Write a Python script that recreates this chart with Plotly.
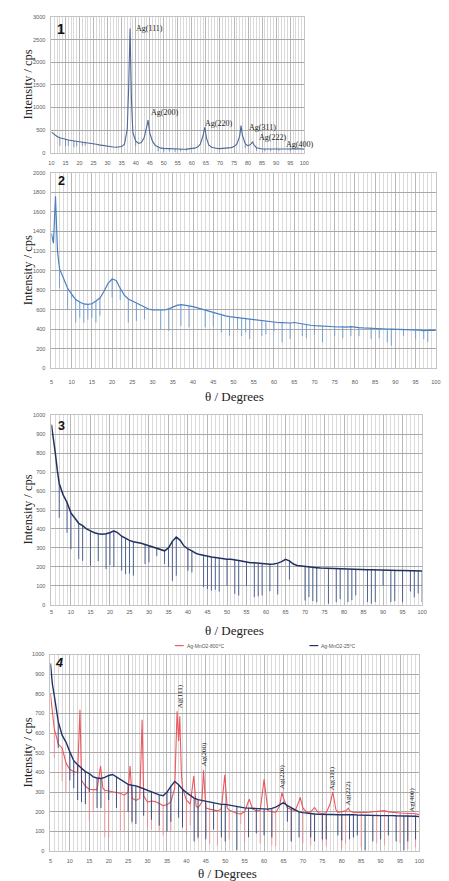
import plotly.graph_objects as go

W, H = 449, 881

# ---------------- data: (2theta, intensity) pairs and dip lists ----------------
# Panel 1: reference silver pattern
p1_points = [(10,455),(11,400),(12,360),(13,330),(14,310),(15,295),(16,280),(17,270),(18,262),(19,255),
             (20,246),(21,240),(22,234),(23,225),(24,214),(25,200),(26,186),(27,172),(28,160),(29,150),
             (30,140),(31,130),(32,124),(33,120),(34,124),(35,135),(36,190),(37,520),(37.5,1450),(38,2750),
             (38.5,1150),(39,440),(40,260),(41,205),(42,225),(43,330),(44,600),(44.4,720),(45,440),(46,250),
             (47,160),(48,120),(49,100),(50,95),(51,90),(52,86),(53,82),(54,80),(55,78),(56,76),(57,75),
             (58,78),(59,82),(60,90),(61,100),(62,125),(63,190),(64,380),(64.6,560),(65.2,320),(66,170),
             (67,120),(68,100),(69,94),(70,90),(71,92),(72,95),(73,100),(74,112),(75,135),(76,190),(77,360),
             (77.5,600),(78,380),(79,200),(80,150),(81,190),(81.6,240),(82,180),(83,110),(84,90),(85,82),
             (86,80),(87,78),(88,76),(89,75),(90,75),(91,76),(92,78),(93,80),(94,82),(95,85),(96,88),(97,92),
             (98,95),(99,85),(100,75)]
p1_dip_x = [13, 15, 16, 18, 19, 21, 22, 40, 48, 50, 52, 54, 56, 58, 79, 83, 86, 88, 91, 95]
p1_dip_low = [150, 140, 150, 120, 140, 150, 160, 150, 30, 20, 25, 20, 30, 35, 100, 40, 30, 35, 40, 40]
p1_peak_labels = ["Ag(111)", "Ag(200)", "Ag(220)", "Ag(311)", "Ag(222)", "Ag(400)"]
p1_label_x = [39.5, 44.6, 64.1, 79.8, 83.3, 92.7]
p1_label_y = [2760, 880, 640, 565, 340, 185]

# Panel 2
p2_points = [(5,1380),(5.5,1280),(6,1760),(6.5,1200),(7,1020),(8,910),(9,820),(10,760),(11,705),(12,680),
             (13,660),(14,655),(15,662),(16,690),(17,720),(18,790),(19,870),(20,915),(21,900),(22,820),
             (23,750),(24,710),(25,690),(26,665),(27,645),(28,625),(29,608),(30,600),(31,598),(32,597),
             (33,598),(34,610),(35,630),(36,645),(37,652),(38,648),(39,640),(40,632),(41,620),(42,605),
             (43,590),(44,578),(45,570),(46,560),(47,548),(48,538),(49,530),(50,525),(51,520),(52,515),
             (53,510),(54,505),(55,497),(56,490),(57,485),(58,480),(59,476),(60,472),(61,470),(62,468),
             (63,466),(64,465),(65,470),(66,462),(67,455),(68,448),(69,442),(70,438),(71,435),(72,432),
             (73,428),(74,425),(75,422),(76,424),(77,426),(78,423),(79,428),(80,420),(81,418),(82,415),
             (83,412),(84,415),(85,410),(86,408),(87,406),(88,404),(89,403),(90,402),(91,404),(92,400),
             (93,398),(94,396),(95,394),(96,392),(97,388),(98,392),(99,393),(100,390)]
p2_dip_x = [7, 9, 10, 11, 12, 13, 14, 15, 16, 17, 20, 22, 24, 26, 28, 32, 34, 37, 39, 43, 45, 47, 49, 51,
            52, 53, 54, 57, 58, 60, 62, 64, 67, 68, 70, 72, 75, 77, 79, 81, 84, 86, 88, 89, 92, 95, 97, 98]
p2_dip_low = [820, 600, 720, 470, 520, 470, 500, 520, 470, 540, 727, 700, 470, 487, 504, 403, 386, 436, 420,
              420, 430, 369, 335, 403, 330, 369, 301, 330, 350, 380, 267, 300, 330, 310, 350, 267, 335, 310,
              330, 330, 300, 310, 267, 233, 330, 300, 300, 270]

# Panel 3
p3_points = [(5,950),(5.5,880),(6,800),(6.5,710),(7,640),(8,580),(9,540),(10,485),(11,455),(12,430),
             (13,418),(14,400),(15,390),(16,380),(17,375),(18,372),(19,375),(20,380),(21,390),(22,380),
             (23,362),(24,350),(25,340),(26,333),(27,330),(28,325),(29,318),(30,312),(31,305),(32,297),
             (33,290),(34,285),(35,300),(36,335),(37,358),(38,340),(39,310),(40,295),(41,285),(42,272),
             (43,265),(44,260),(45,256),(46,252),(47,250),(48,246),(49,242),(50,240),(51,240),(52,238),
             (53,234),(54,230),(55,225),(56,222),(57,222),(58,220),(59,218),(60,215),(61,214),(62,216),
             (63,220),(64,228),(65,240),(66,232),(67,215),(68,208),(69,205),(70,202),(71,200),(72,198),
             (73,196),(74,194),(75,193),(76,192),(77,192),(78,190),(79,190),(80,189),(81,188),(82,188),
             (83,187),(84,186),(85,186),(86,185),(87,185),(88,184),(89,184),(90,183),(91,183),(92,182),
             (93,182),(94,181),(95,181),(96,180),(97,180),(98,180),(99,179),(100,179)]
p3_dip_x = [7, 9, 10, 12, 13, 15, 17, 19, 20, 21, 23, 24, 25, 26, 29, 30, 32, 34, 35, 36, 37, 40, 41, 44,
            45, 46, 47, 48, 50, 52, 53, 55, 57, 58, 59, 61, 63, 66, 70, 71, 72, 73, 76, 78, 79, 81, 82, 83,
            86, 87, 88, 90, 92, 93, 95, 97, 98, 99, 100]
p3_dip_low = [459, 380, 293, 241, 232, 206, 230, 189, 210, 200, 180, 162, 165, 154, 215, 225, 258, 215,
              200, 127, 154, 180, 171, 93, 84, 75, 80, 70, 100, 58, 49, 101, 41, 45, 50, 72, 55, 133, 23,
              41, 20, 14, 6, 15, 30, 15, 25, 50, 15, 6, 15, 101, 15, 20, 15, 70, 40, 60, 15]

# Panel 4: annealed (800 °C) and as-prepared (25 °C) samples
p4_hot_points = [(5,800),(5.5,700),(6,620),(6.5,585),(7,545),(8,525),(9,450),(10,415),(11,405),(12,400),
                 (12.6,719),(13,360),(14,330),(15,315),(16,315),(17,312),(17.9,433),(18.5,320),(19,310),
                 (20,306),(21,303),(22,300),(23,295),(24,285),(25,300),(25.5,433),(26,270),(27,258),
                 (28,268),(28.6,668),(29,280),(30,250),(31,255),(32,252),(33,240),(34,232),(35,236),
                 (36,250),(37,320),(37.6,711),(38,560),(38.3,686),(38.7,400),(39,320),(40,260),(41,240),
                 (41.9,382),(42.5,230),(43,220),(44,250),(44.4,411),(45,220),(46,214),(47,210),(48,205),
                 (49,215),(49.9,388),(50.5,220),(51,210),(52,200),(53,192),(54,190),(55,200),(56,255),
                 (56.2,264),(57,215),(58,205),(59,208),(60,365),(61,205),(62,200),(63,197),(64,230),
                 (64.6,298),(65,270),(65.7,239),(66,220),(67,212),(68,205),(69,255),(69.3,273),(70,220),
                 (71,197),(72,200),(73,222),(74,195),(75,192),(76,195),(77,240),(77.7,301),(78.5,210),
                 (79,197),(80,200),(81,205),(81.7,219),(82,205),(83,197),(84,196),(85,198),(86,197),
                 (87,198),(88,200),(89,202),(90,203),(91,206),(92,200),(93,197),(94,195),(95,194),
                 (96,193),(97,192),(98,192),(99,190),(100,186)]
p4_hot_dip_x = [6, 8, 9, 11, 14, 15, 16, 19, 20, 23, 24, 26, 30, 31, 33, 34, 36, 39, 40, 41, 43, 45, 46,
                48, 51, 54, 55, 59, 62, 63, 67, 70, 72, 75, 76, 80, 81, 85, 89, 91, 95, 97, 99, 100]
p4_hot_dip_low = [475, 357, 300, 380, 250, 155, 206, 71, 71, 104, 104, 140, 120, 110, 100, 80, 100, 140,
                  90, 130, 60, 80, 37, 28, 60, 138, 50, 40, 30, 25, 50, 40, 30, 50, 25, 15, 40, 20, 40, 30,
                  40, 10, 20, 10]

p4_cold_points = [(5,955),(5.5,850),(6,790),(6.5,720),(7,660),(8,590),(9,555),(10,505),(11,460),(12,440),
                  (13,424),(14,405),(15,395),(16,378),(17,372),(18,370),(19,375),(20,385),(21,390),(22,378),
                  (23,365),(24,350),(25,340),(26,335),(27,332),(28,325),(29,317),(30,308),(31,300),(32,292),
                  (33,286),(34,282),(35,300),(36,330),(37,354),(38,338),(39,315),(40,298),(41,285),(42,270),
                  (43,262),(44,258),(45,253),(46,248),(47,244),(48,240),(49,238),(50,238),(51,234),(52,232),
                  (53,228),(54,224),(55,220),(56,219),(57,218),(58,216),(59,215),(60,214),(61,214),(62,218),
                  (63,224),(64,235),(65,247),(66,232),(67,220),(68,210),(69,200),(70,196),(71,193),(72,190),
                  (73,189),(74,188),(75,187),(76,186),(77,186),(78,186),(79,185),(80,185),(81,185),(82,186),
                  (83,186),(84,184),(85,183),(86,182),(87,182),(88,181),(89,181),(90,181),(91,181),(92,182),
                  (93,181),(94,180),(95,180),(96,179),(97,179),(98,179),(99,178),(100,176)]
p4_cold_dip_x = [7, 10, 11, 12, 13, 14, 15, 17, 18, 20, 22, 25, 26, 27, 29, 31, 33, 35, 36, 38, 39, 42,
                 43, 45, 47, 49, 50, 53, 56, 58, 60, 62, 66, 67, 69, 72, 73, 75, 76, 79, 80, 82, 83, 84,
                 86, 88, 90, 92, 94, 96, 97, 99]
p4_cold_dip_low = [525, 360, 320, 260, 250, 239, 300, 220, 220, 260, 220, 200, 150, 138, 180, 160, 130,
                   100, 150, 170, 120, 50, 70, 60, 110, 70, 50, 5, 71, 90, 80, 70, 150, 50, 70, 70, 50,
                   60, 60, 80, 55, 60, 70, 80, 5, 50, 60, 80, 50, 5, 50, 60]
p4_peak_labels = ["Ag(111)", "Ag(200)", "Ag(220)", "Ag(311)", "Ag(222)", "Ag(400)"]
p4_label_x = [38.2, 44.4, 64.8, 77.7, 81.6, 98.2]
p4_label_y = [790, 495, 376, 370, 295, 263]

series_names = ["Ag-MnO2-800°C", "Ag-MnO2-25°C"]

# ---------------- helpers ----------------
def unzip(points):
    return [p[0] for p in points], [p[1] for p in points]


def dip_segments(points, dip_x, dip_low):
    level = dict(points)
    sx, sy = [], []
    for d, low in zip(dip_x, dip_low):
        sx += [d, d, None]
        sy += [level[d], low, None]
    return sx, sy


fig = go.Figure()


def add_pattern(points, dip_x, dip_low, n, color, width, dip_color, dip_width, name=None):
    ax = "x" if n == 1 else f"x{n}"
    ay = "y" if n == 1 else f"y{n}"
    sx, sy = dip_segments(points, dip_x, dip_low)
    fig.add_trace(go.Scatter(x=sx, y=sy, mode="lines", xaxis=ax, yaxis=ay,
                             line=dict(color=dip_color, width=dip_width),
                             showlegend=False, hoverinfo="skip"))
    x, y = unzip(points)
    fig.add_trace(go.Scatter(x=x, y=y, mode="lines", xaxis=ax, yaxis=ay, name=name,
                             line=dict(color=color, width=width), showlegend=False))


add_pattern(p1_points, p1_dip_x, p1_dip_low, 1, "#4f6898", 1.1, "#6d86b3", 0.8)
add_pattern(p2_points, p2_dip_x, p2_dip_low, 2, "#4a7fc1", 1.2, "#6f9bd0", 0.9)
add_pattern(p3_points, p3_dip_x, p3_dip_low, 3, "#22305e", 1.5, "#41578a", 0.9)
add_pattern(p4_hot_points, p4_hot_dip_x, p4_hot_dip_low, 4, "rgba(236,70,76,0.9)", 1.1,
            "rgba(240,130,134,0.8)", 0.9, series_names[0])
add_pattern(p4_cold_points, p4_cold_dip_x, p4_cold_dip_low, 4, "#22336a", 1.4, "#2f4475", 0.9,
            series_names[1])

# ---------------- axes ----------------
def xdom(l, r):
    return [l / W, r / W]


def ydom(t, b):
    return [1 - b / H, 1 - t / H]


tick_font = dict(family="Liberation Sans", size=5.5, color="#5a5a5a")
panels = [
    # (left, right, top, bottom, xmin, ymax, ydtick, x standoff)
    (49.3, 306.7, 14.3, 150.7, 10, 3000, 500, 5),
    (49.3, 440.7, 171, 368, 5, 2000, 200, 8),
    (49.3, 426.7, 415, 606, 5, 1000, 100, 2),
    (48.3, 424.0, 656, 854, 5, 1000, 100, 4),
]
layout = dict(width=W, height=H, margin=dict(l=0, r=0, t=0, b=0),
              paper_bgcolor="white", plot_bgcolor="white", showlegend=False)
for i, (l, r, t, b, xmin, ymax, ydt, xs) in enumerate(panels, start=1):
    sfx = "" if i == 1 else str(i)
    layout["xaxis" + sfx] = dict(
        domain=xdom(l, r), range=[xmin, 100], anchor="y" + sfx, tick0=xmin, dtick=5,
        showgrid=True, gridcolor="#b8b8b8", gridwidth=1,
        minor=dict(tick0=0, dtick=1, showgrid=True, gridcolor="#dadada", gridwidth=1),
        zeroline=False, showline=True, linecolor="#c4c4c4", mirror=True, ticks="",
        ticklabelstandoff=xs, tickfont=tick_font)
    layout["yaxis" + sfx] = dict(
        domain=ydom(t, b), range=[0, ymax], anchor="x" + sfx, dtick=ydt,
        showgrid=True, gridcolor="#a9a9a9", gridwidth=1, zeroline=False,
        showline=True, linecolor="#c4c4c4", mirror=True, ticks="",
        ticklabelstandoff=4, tickfont=tick_font)
fig.update_layout(**layout)

# ---------------- text ----------------
serif = "Liberation Serif"
centered = dict(xanchor="center", yanchor="middle", showarrow=False)
ann = []
for l, r, t, b, *_ in panels:
    ann.append(dict(x=25 / W, y=1 - (t + b) / 2 / H, xref="paper", yref="paper",
                    text="Intensity / cps", textangle=-90,
                    font=dict(family=serif, size=12.5, color="#222"), **centered))
for cx, cy in [(236, 396), (236, 632), (229, 876)]:
    ann.append(dict(x=cx / W, y=1 - cy / H, xref="paper", yref="paper", text="θ / Degrees",
                    font=dict(family=serif, size=13, color="#222"), **centered))
for txt, cx, cy, fs in [("1", 59, 26, 14), ("2", 60, 179.5, 12.5), ("3", 60, 426, 12.5),
                        ("<i>4</i>", 57, 665, 12.5)]:
    ann.append(dict(x=cx / W, y=1 - cy / H, xref="paper", yref="paper", text=f"<b>{txt}</b>",
                    font=dict(family="Liberation Sans", size=fs, color="#111"), **centered))
for lab, lx, ly in zip(p1_peak_labels, p1_label_x, p1_label_y):
    ann.append(dict(x=lx, y=ly, xref="x", yref="y", text=lab, showarrow=False,
                    xanchor="left", yanchor="middle",
                    font=dict(family=serif, size=8, color="#222")))
for lab, lx, ly in zip(p4_peak_labels, p4_label_x, p4_label_y):
    ann.append(dict(x=lx, y=ly, xref="x4", yref="y4", text=lab, textangle=-90,
                    font=dict(family=serif, size=7, color="#222"), **centered))

# legend for panel 4
legend_items = [(175, series_names[0], "rgba(236,70,76,0.9)"), (312, series_names[1], "#22336a")]
shapes = []
for x0, name, col in legend_items:
    shapes.append(dict(type="line", xref="paper", yref="paper", x0=x0 / W, x1=(x0 + 9) / W,
                       y0=1 - 647 / H, y1=1 - 647 / H, line=dict(color=col, width=1.2)))
    ann.append(dict(x=(x0 + 10) / W, y=1 - 647 / H, xref="paper", yref="paper", text=name,
                    xanchor="left", yanchor="middle", showarrow=False,
                    font=dict(family="Liberation Sans", size=5, color="#555")))
fig.update_layout(annotations=ann, shapes=shapes)

fig.write_html("out.html")
